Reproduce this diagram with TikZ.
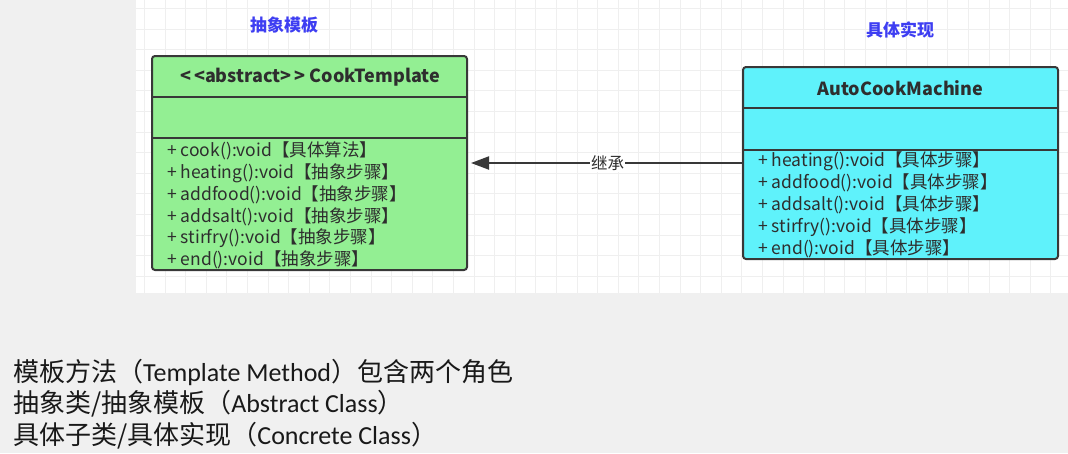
\documentclass[tikz,border=0pt]{standalone}
\usepackage{fontspec}
\setmainfont{Noto Sans CJK SC}
\newfontfamily\cjk{Noto Sans CJK SC}
\newfontfamily\carl{Carlito}
\usetikzlibrary{arrows.meta}
\definecolor{bgc}{HTML}{F0F0F0}
\definecolor{gridc}{HTML}{EFEFEF}
\definecolor{greenc}{HTML}{93EF93}
\definecolor{cyanc}{HTML}{5FF2FB}
\definecolor{edgec}{HTML}{383838}
\definecolor{textc}{HTML}{2E2E2E}
\definecolor{bluec}{HTML}{3E3EF2}
\tikzset{
  clsbox/.style={draw=edgec, line width=2pt, rounded corners=3pt, inner sep=0pt},
  divider/.style={draw=edgec, line width=2pt},
  clsname/.style={font=\bfseries\fontsize{18}{21}\selectfont, text=textc, inner sep=0pt},
  meth/.style={anchor=west, font=\fontsize{17.5}{20}\selectfont, text=textc, inner sep=0pt},
  rolelabel/.style={font=\bfseries\fontsize{17}{20}\selectfont, text=bluec, inner sep=0pt},
  inherit/.style={draw=edgec, line width=2pt, -{Triangle[length=18pt,width=13pt]}, shorten >=3pt},
  bottomtext/.style={anchor=west, font=\fontsize{26}{30}\selectfont, text=black!90, inner sep=0pt}
}
\begin{document}
\begin{tikzpicture}[x=1pt,y=-1pt]
\useasboundingbox (0,0) rectangle (1068,453);
\fill[bgc] (0,0) rectangle (1068,453);
\fill[white] (136,0) rectangle (1068,293);
\foreach \x in {144.4,165.0,...,1068} \draw[gridc, line width=1pt] (\x,0) -- (\x,293);
\foreach \y in {8.5,29.1,...,293} \draw[gridc, line width=1pt] (136,\y) -- (1068,\y);

% role labels
\node[rolelabel] (lblA) at (284,25) {抽象模板};
\node[rolelabel] (lblC) at (900,30) {具体实现};

% abstract class
\node[clsbox, fill=greenc, minimum width=315pt, minimum height=214pt] (ct) at (309.5,163) {};
\draw[divider] (152,97) -- (467,97);
\draw[divider] (152,138) -- (467,138);
\node[clsname] (ctname) at (310,77) {<{}\,<abstract>\,{}> CookTemplate};
\node[meth] (ct1) at (167,151) {+ cook():void【具体算法】};
\node[meth] (ct2) at (167,172.8) {+ heating():void【抽象步骤】};
\node[meth] (ct3) at (167,194.6) {+ addfood():void【抽象步骤】};
\node[meth] (ct4) at (167,216.4) {+ addsalt():void【抽象步骤】};
\node[meth] (ct5) at (167,238.2) {+ stirfry():void【抽象步骤】};
\node[meth] (ct6) at (167,260) {+ end():void【抽象步骤】};

% concrete class
\node[clsbox, fill=cyanc, minimum width=315pt, minimum height=192pt] (acm) at (900.5,163) {};
\draw[divider] (743,108) -- (1058,108);
\draw[divider] (743,150) -- (1058,150);
\node[clsname] (acmname) at (900.5,88) {AutoCookMachine};
\node[meth] (acm1) at (758,161.5) {+ heating():void【具体步骤】};
\node[meth] (acm2) at (758,183.3) {+ addfood():void【具体步骤】};
\node[meth] (acm3) at (758,205.1) {+ addsalt():void【具体步骤】};
\node[meth] (acm4) at (758,226.9) {+ stirfry():void【具体步骤】};
\node[meth] (acm5) at (758,248.7) {+ end():void【具体步骤】};

% inheritance
\draw[inherit] (acm) -- node[pos=0.49, fill=white, inner sep=1pt, text=textc, font=\fontsize{16.5}{18}\selectfont] (inh) {继承} (ct);

% bottom text
\node[bottomtext] (t1) at (13,372) {\cjk 模板方法（\carl Template Method\cjk ）包含两个角色};
\node[bottomtext] (t2) at (13,404) {\cjk 抽象类/抽象模板（\carl Abstract Class\cjk ）};
\node[bottomtext] (t3) at (13,435.5) {\cjk 具体子类/具体实现（\carl Concrete Class\cjk ）};
\end{tikzpicture}
\end{document}
